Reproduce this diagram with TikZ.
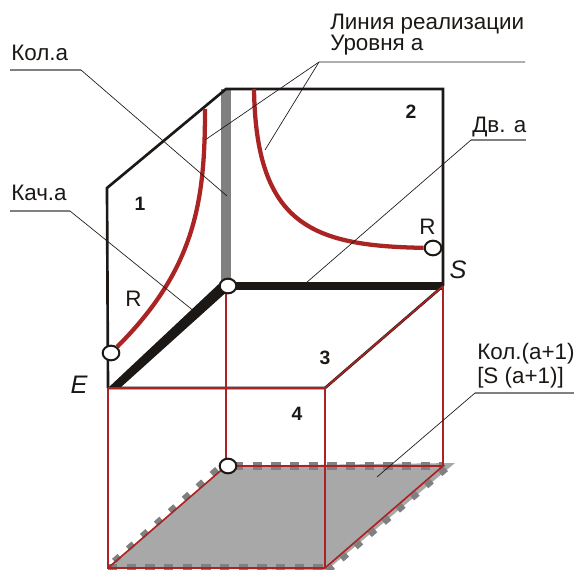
\documentclass[tikz,border=0pt]{standalone}
\usepackage{xcolor}
\usepackage{fontspec}
\setmainfont{Liberation Sans}
\usepackage{tikz}
\usetikzlibrary{positioning,shapes.geometric}
\definecolor{cubered}{RGB}{170,36,36}
\definecolor{cubegray}{RGB}{128,128,128}
\definecolor{planegray}{RGB}{168,168,168}
\definecolor{cubeblack}{RGB}{28,24,22}
\tikzset{
  cubepicture/.style={x=0.75pt,y=-0.75pt},
  cubeedge/.style={draw=cubeblack, line width=2pt, line join=miter},
  cubeaxis/.style={draw=cubeblack, line width=5.8pt},
  cubecolumn/.style={draw=cubegray, line width=7.4pt},
  cubeprojection/.style={draw=cubered, line width=1.25pt},
  cubecurve/.style={draw=cubered, line width=3.2pt},
  cubedash/.style={draw=cubegray, line width=5.6pt, dash pattern=on 7pt off 7pt},
  cubeslant/.style={cubedash, line width=4.4pt, dash pattern=on 5.5pt off 8.5pt},
  cubeleader/.style={draw=cubeblack, line width=0.5pt},
  cubeshelf/.style={draw=cubegray, line width=0.8pt},
  cubelabel/.style={font=\fontsize{16.8}{18}\selectfont, text=cubeblack, inner sep=0pt, anchor=base west, align=left},
  cubenumber/.style={font=\fontsize{14.5}{16}\selectfont\bfseries, text=cubeblack, inner sep=0pt},
  cubeitalic/.style={font=\fontsize{19}{20}\selectfont\itshape, text=cubeblack, inner sep=0pt},
  cubepoint/.style={ellipse, draw=cubeblack, fill=white, line width=1.5pt, minimum width=12.5pt, minimum height=11pt, inner sep=0pt}
}
\begin{document}
\begin{tikzpicture}[cubepicture]
\useasboundingbox (0,0) rectangle (575,570);
% cube corners
\coordinate (E) at (108,388);
\coordinate (left) at (107,188);
\coordinate (apex) at (226,89);
\coordinate (right) at (443,89);
\coordinate (S) at (443,286);
\coordinate (centre) at (226,286);
\coordinate (front) at (325,388);
% lower plane
\coordinate (lowE) at (108,568);
\coordinate (lowfront) at (325,568);
\coordinate (lowback) at (226,466);
\coordinate (lowS) at (443,466);
\coordinate (tipS) at (455,463);
\coordinate (tipfront) at (327,570);
% lower plane fill
\fill[planegray] (lowE) -- (lowback) -- (tipS) -- (tipfront) -- cycle;
\draw[cubeslant] ([shift={(6,-7)}]lowE) -- ([shift={(-2,-3)}]lowback);
\draw[cubedash] ([shift={(8,0)}]lowback) -- (lowS);
\draw[cubeslant] ([shift={(3,3)}]lowS) -- ([shift={(3,3)}]lowfront);
\draw[cubedash] (lowE) -- (lowfront);
% outline
\draw[cubecolumn] (apex) -- (centre);
\draw[cubeedge] (E) -- (left) -- (apex) -- (right) -- (S);
\draw[cubeedge] (E) -- (front) -- (S);
\draw[cubeaxis] (centre) -- (S);
\fill[cubeblack] (108,388) -- (120,388) -- (231,288) -- (222,281) -- cycle;
% projection lines
\draw[cubeprojection] (E) -- (lowE) -- (lowfront) -- (lowS) -- (lowback) -- (lowE);
\draw[cubeprojection] (front) -- (lowfront);
\draw[cubeprojection] (S) -- (lowS);
\draw[cubeprojection] (centre) -- (lowback);
\draw[cubeprojection] (E) -- (front) -- (S);
% level curves
\node[cubepoint] (pointE) at (111,353) {};
\node[cubepoint] (pointS) at (433,248) {};
\node[cubepoint] (pointcentre) at (228,286) {};
\node[cubepoint] (pointback) at (228,466) {};
\coordinate (topleft) at (205,109);
\coordinate (topright) at (254,89);
\draw[cubecurve] (topleft) .. controls (205,200) and (196,268) .. (pointE);
\draw[cubecurve] (topright) .. controls (256,225) and (312,246) .. (pointS);
% labels
\node[cubelabel] (kol) at (11,61) {Кол.а};
\node[cubelabel] (kach) at (11,201) {Кач.а};
\node[cubelabel] (line) at (330,30) {Линия реализации};
\node[cubelabel] (level) at (330,51) {Уровня а};
\node[cubelabel] (dv) at (472,133) {Дв. а};
\node[cubelabel] (kolnext) at (477,360) {Кол.(а+1)};
\node[cubelabel] (snext) at (477,383) {[S (а+1)]};
\node[cubenumber] (one) at (140,204) {1};
\node[cubenumber] (two) at (411,112) {2};
\node[cubenumber] (three) at (325,358) {3};
\node[cubenumber] (four) at (297,414) {4};
\node[cubelabel] (rleft) at (125,307) {R};
\node[cubelabel] (rright) at (419,235) {R};
\node[cubeitalic] (nameS) at (458,270) {S};
\node[cubeitalic] (nameE) at (79,385) {E};
% leaders
\coordinate (kolstart) at (10,70);
\coordinate (kolbend) at (81,70);
\coordinate (kolend) at (227,196);
\coordinate (kachstart) at (10,211);
\coordinate (kachbend) at (70,211);
\coordinate (kachend) at (200,316);
\coordinate (linebend) at (319,62);
\coordinate (lineend) at (525,62);
\coordinate (lineleft) at (205,140);
\coordinate (lineright) at (265,150);
\coordinate (dvbend) at (471,140);
\coordinate (dvend) at (526,140);
\coordinate (dvleft) at (306,283);
\coordinate (nextbend) at (475,393);
\coordinate (nextend) at (574,393);
\coordinate (nextleft) at (377,477);
\draw[cubeshelf] (kolstart) -- (kolbend);
\draw[cubeleader] (kolbend) -- (kolend);
\draw[cubeshelf] (kachstart) -- (kachbend);
\draw[cubeleader] (kachbend) -- (kachend);
\draw[cubeleader] (lineend) -- (linebend) -- (lineleft);
\draw[cubeleader] (linebend) -- (lineright);
\draw[cubeshelf] (dvend) -- (dvbend);
\draw[cubeleader] (dvbend) -- (dvleft);
\draw[cubeshelf] (nextend) -- (nextbend);
\draw[cubeleader] (nextbend) -- (nextleft);
\end{tikzpicture}
\end{document}
